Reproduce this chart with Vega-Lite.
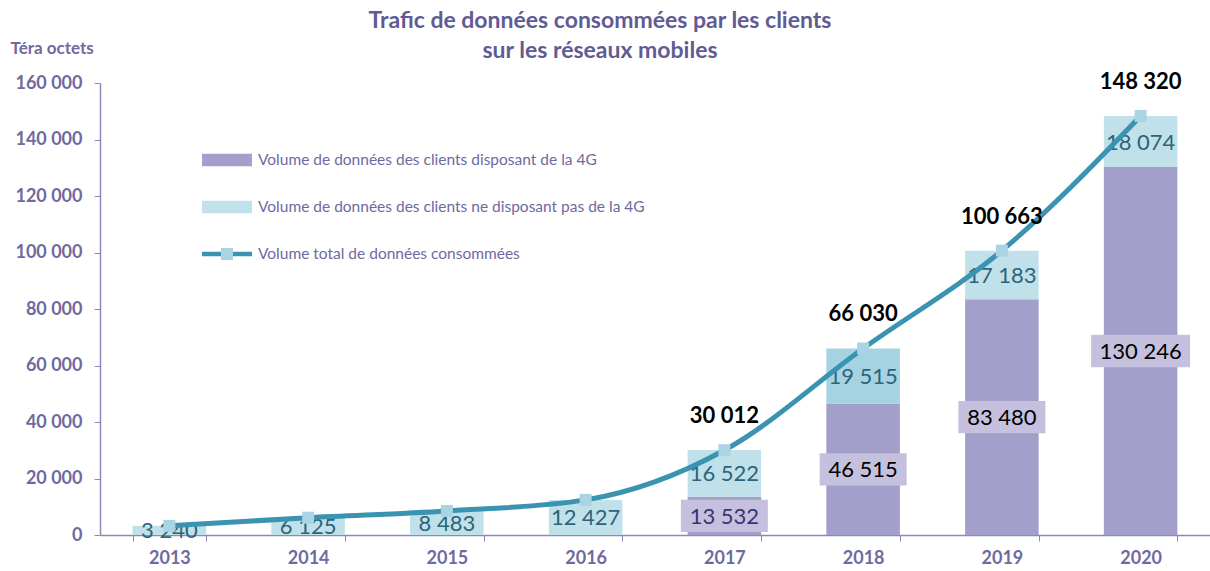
{
  "$schema": "https://vega.github.io/schema/vega-lite/v6.json",
  "width": 1110,
  "height": 452,
  "autosize": {"type": "none"},
  "padding": {"left": 100, "top": 83, "right": 0, "bottom": 36},
  "background": "white",
  "config": {
    "view": {"stroke": null},
    "font": "Lato",
    "axis": {"grid": false}
  },
  "title": {
    "text": ["Trafic de données consommées par les clients", "sur les réseaux mobiles"],
    "anchor": "middle",
    "frame": "group",
    "dx": -55,
    "offset": -24,
    "font": "Lato",
    "fontSize": 23,
    "fontWeight": "bold",
    "lineHeight": 30,
    "color": "#5F5B94"
  },
  "datasets": {
    "barres": [
      {"annee": "2013", "serie": "Volume de données des clients ne disposant pas de la 4G", "valeur": 3240},
      {"annee": "2014", "serie": "Volume de données des clients ne disposant pas de la 4G", "valeur": 6125},
      {"annee": "2015", "serie": "Volume de données des clients ne disposant pas de la 4G", "valeur": 8483},
      {"annee": "2016", "serie": "Volume de données des clients ne disposant pas de la 4G", "valeur": 12427},
      {"annee": "2017", "serie": "Volume de données des clients disposant de la 4G", "valeur": 13532},
      {"annee": "2017", "serie": "Volume de données des clients ne disposant pas de la 4G", "valeur": 16522},
      {"annee": "2018", "serie": "Volume de données des clients disposant de la 4G", "valeur": 46515},
      {"annee": "2018", "serie": "Volume de données des clients ne disposant pas de la 4G", "valeur": 19515},
      {"annee": "2019", "serie": "Volume de données des clients disposant de la 4G", "valeur": 83480},
      {"annee": "2019", "serie": "Volume de données des clients ne disposant pas de la 4G", "valeur": 17183},
      {"annee": "2020", "serie": "Volume de données des clients disposant de la 4G", "valeur": 130246},
      {"annee": "2020", "serie": "Volume de données des clients ne disposant pas de la 4G", "valeur": 18074}
    ],
    "totaux": [
      {"annee": "2013", "total": 3240, "affiche": false},
      {"annee": "2014", "total": 6125, "affiche": false},
      {"annee": "2015", "total": 8483, "affiche": false},
      {"annee": "2016", "total": 12427, "affiche": false},
      {"annee": "2017", "total": 30012, "affiche": true},
      {"annee": "2018", "total": 66030, "affiche": true},
      {"annee": "2019", "total": 100663, "affiche": true},
      {"annee": "2020", "total": 148320, "affiche": true}
    ]
  },
  "encoding": {
    "x": {
      "field": "annee",
      "type": "ordinal",
      "scale": {"paddingInner": 0.47, "paddingOuter": 0.235},
      "axis": {
        "title": null,
        "labelAngle": 0,
        "tickBand": "extent",
        "tickSize": 6,
        "labelPadding": 8,
        "labelFont": "Lato",
        "labelFontSize": 18,
        "labelFontWeight": "bold",
        "labelColor": "#6E6AA0",
        "domainColor": "#8C88B8",
        "tickColor": "#8C88B8",
        "domainWidth": 1.5
      }
    }
  },
  "layer": [
    {
      "data": {"name": "barres"},
      "mark": {"type": "bar"},
      "encoding": {
        "y": {
          "field": "valeur",
          "type": "quantitative",
          "stack": "zero",
          "scale": {"domain": [0, 160000], "nice": false},
          "axis": {
            "title": "Téra octets",
            "titleAngle": 0,
            "titleAlign": "left",
            "titleBaseline": "alphabetic",
            "titleX": -90,
            "titleY": -30,
            "titleFont": "Lato",
            "titleFontSize": 17,
            "titleFontWeight": "bold",
            "titleColor": "#6E6AA0",
            "values": [0, 20000, 40000, 60000, 80000, 100000, 120000, 140000, 160000],
            "labelExpr": "replace(format(datum.value, ','), ',', ' ')",
            "tickSize": 6,
            "labelPadding": 12,
            "labelFont": "Lato",
            "labelFontSize": 18,
            "labelFontWeight": "bold",
            "labelColor": "#6E6AA0",
            "domainColor": "#8C88B8",
            "tickColor": "#8C88B8",
            "domainWidth": 1.5
          }
        },
        "order": {"field": "serie", "sort": "ascending"},
        "color": {
          "field": "serie",
          "type": "nominal",
          "condition": {"test": "datum.annee === '2018' && datum.serie === 'Volume de données des clients ne disposant pas de la 4G'", "value": "#A6D3E2"},
          "scale": {
            "domain": [
              "Volume de données des clients disposant de la 4G",
              "Volume de données des clients ne disposant pas de la 4G",
              "Volume total de données consommées"
            ],
            "range": ["#A39FCB", "#C0E1EA", "#3A93B0"]
          },
          "legend": {
            "title": null,
            "orient": "none",
            "legendX": 102,
            "legendY": 52,
            "padding": 0,
            "rowPadding": 13,
            "symbolSize": 2500,
            "symbolStrokeWidth": 0,
            "labelFont": "Lato",
            "labelFontSize": 15.5,
            "labelColor": "#6E6AA0",
            "labelOffset": 6,
            "labelLimit": 600,
            "encode": {
              "symbols": {
                "update": {
                  "shape": {"signal": "datum.value === 'Volume total de données consommées' ? 'M-1,-0.09H1V0.09H-1Z' : 'M-1,-0.25H1V0.25H-1Z'"},
                  "fill": {"signal": "scale('color', datum.value)"},
                  "strokeWidth": {"value": 0},
                  "opacity": {"value": 1}
                }
              }
            }
          }
        }
      }
    },
    {
      "data": {"name": "barres"},
      "transform": [
        {"filter": "datum.serie === 'Volume de données des clients disposant de la 4G'"},
        {"stack": "valeur", "groupby": ["annee"], "sort": [{"field": "serie"}], "as": ["v0", "v1"]},
        {"calculate": "(datum.v0 + datum.v1) / 2", "as": "milieu"}
      ],
      "mark": {"type": "point", "filled": true, "opacity": 1, "color": "#C5C0DE", "strokeWidth": 0},
      "encoding": {
        "y": {"field": "milieu", "type": "quantitative"},
        "shape": {
          "condition": {"test": "datum.valeur >= 100000", "value": "M-1,-0.33H1V0.33H-1Z"},
          "value": "M-1,-0.37H1V0.37H-1Z"
        },
        "size": {
          "condition": {"test": "datum.valeur >= 100000", "value": 9801},
          "value": 7569
        }
      }
    },
    {
      "data": {"name": "barres"},
      "transform": [
        {"stack": "valeur", "groupby": ["annee"], "sort": [{"field": "serie"}], "as": ["v0", "v1"]},
        {"calculate": "(datum.v0 + datum.v1) / 2", "as": "milieu"},
        {"calculate": "replace(format(datum.valeur, ','), ',', ' ')", "as": "etiquette"}
      ],
      "mark": {"type": "text", "font": "Lato", "fontSize": 22, "baseline": "middle", "align": "center", "dy": 1},
      "encoding": {
        "y": {"field": "milieu", "type": "quantitative"},
        "text": {"field": "etiquette"},
        "color": {
          "condition": [
            {"test": "datum.serie === 'Volume de données des clients disposant de la 4G' && datum.annee === '2017'", "value": "#3B3470"},
            {"test": "datum.serie === 'Volume de données des clients disposant de la 4G'", "value": "#000000"}
          ],
          "value": "#2D6478"
        }
      }
    },
    {
      "data": {"name": "totaux"},
      "mark": {"type": "line", "color": "#3A93B0", "strokeWidth": 5, "interpolate": "monotone"},
      "encoding": {
        "y": {"field": "total", "type": "quantitative"},
        "color": {"datum": "Volume total de données consommées"}
      }
    },
    {
      "data": {"name": "totaux"},
      "mark": {"type": "point", "filled": true, "size": 144, "color": "#A8D4E3", "opacity": 1},
      "encoding": {
        "y": {"field": "total", "type": "quantitative"},
        "shape": {
          "datum": "Volume total de données consommées",
          "scale": {"range": ["square"]},
          "legend": {
            "title": null,
            "orient": "none",
            "legendX": 121,
            "legendY": 165,
            "padding": 0,
            "symbolSize": 144,
            "symbolFillColor": "#A8D4E3",
            "symbolStrokeWidth": 0,
            "symbolOpacity": 1,
            "labelExpr": "''",
            "labelFontSize": 12
          }
        }
      }
    },
    {
      "data": {"name": "totaux"},
      "transform": [
        {"filter": "datum.affiche"},
        {"calculate": "replace(format(datum.total, ','), ',', ' ')", "as": "etiquette"}
      ],
      "mark": {"type": "text", "font": "Lato", "fontSize": 22, "fontWeight": "bold", "baseline": "middle", "align": "center", "dy": -34, "color": "#000000"},
      "encoding": {
        "y": {"field": "total", "type": "quantitative"},
        "text": {"field": "etiquette"}
      }
    }
  ]
}
